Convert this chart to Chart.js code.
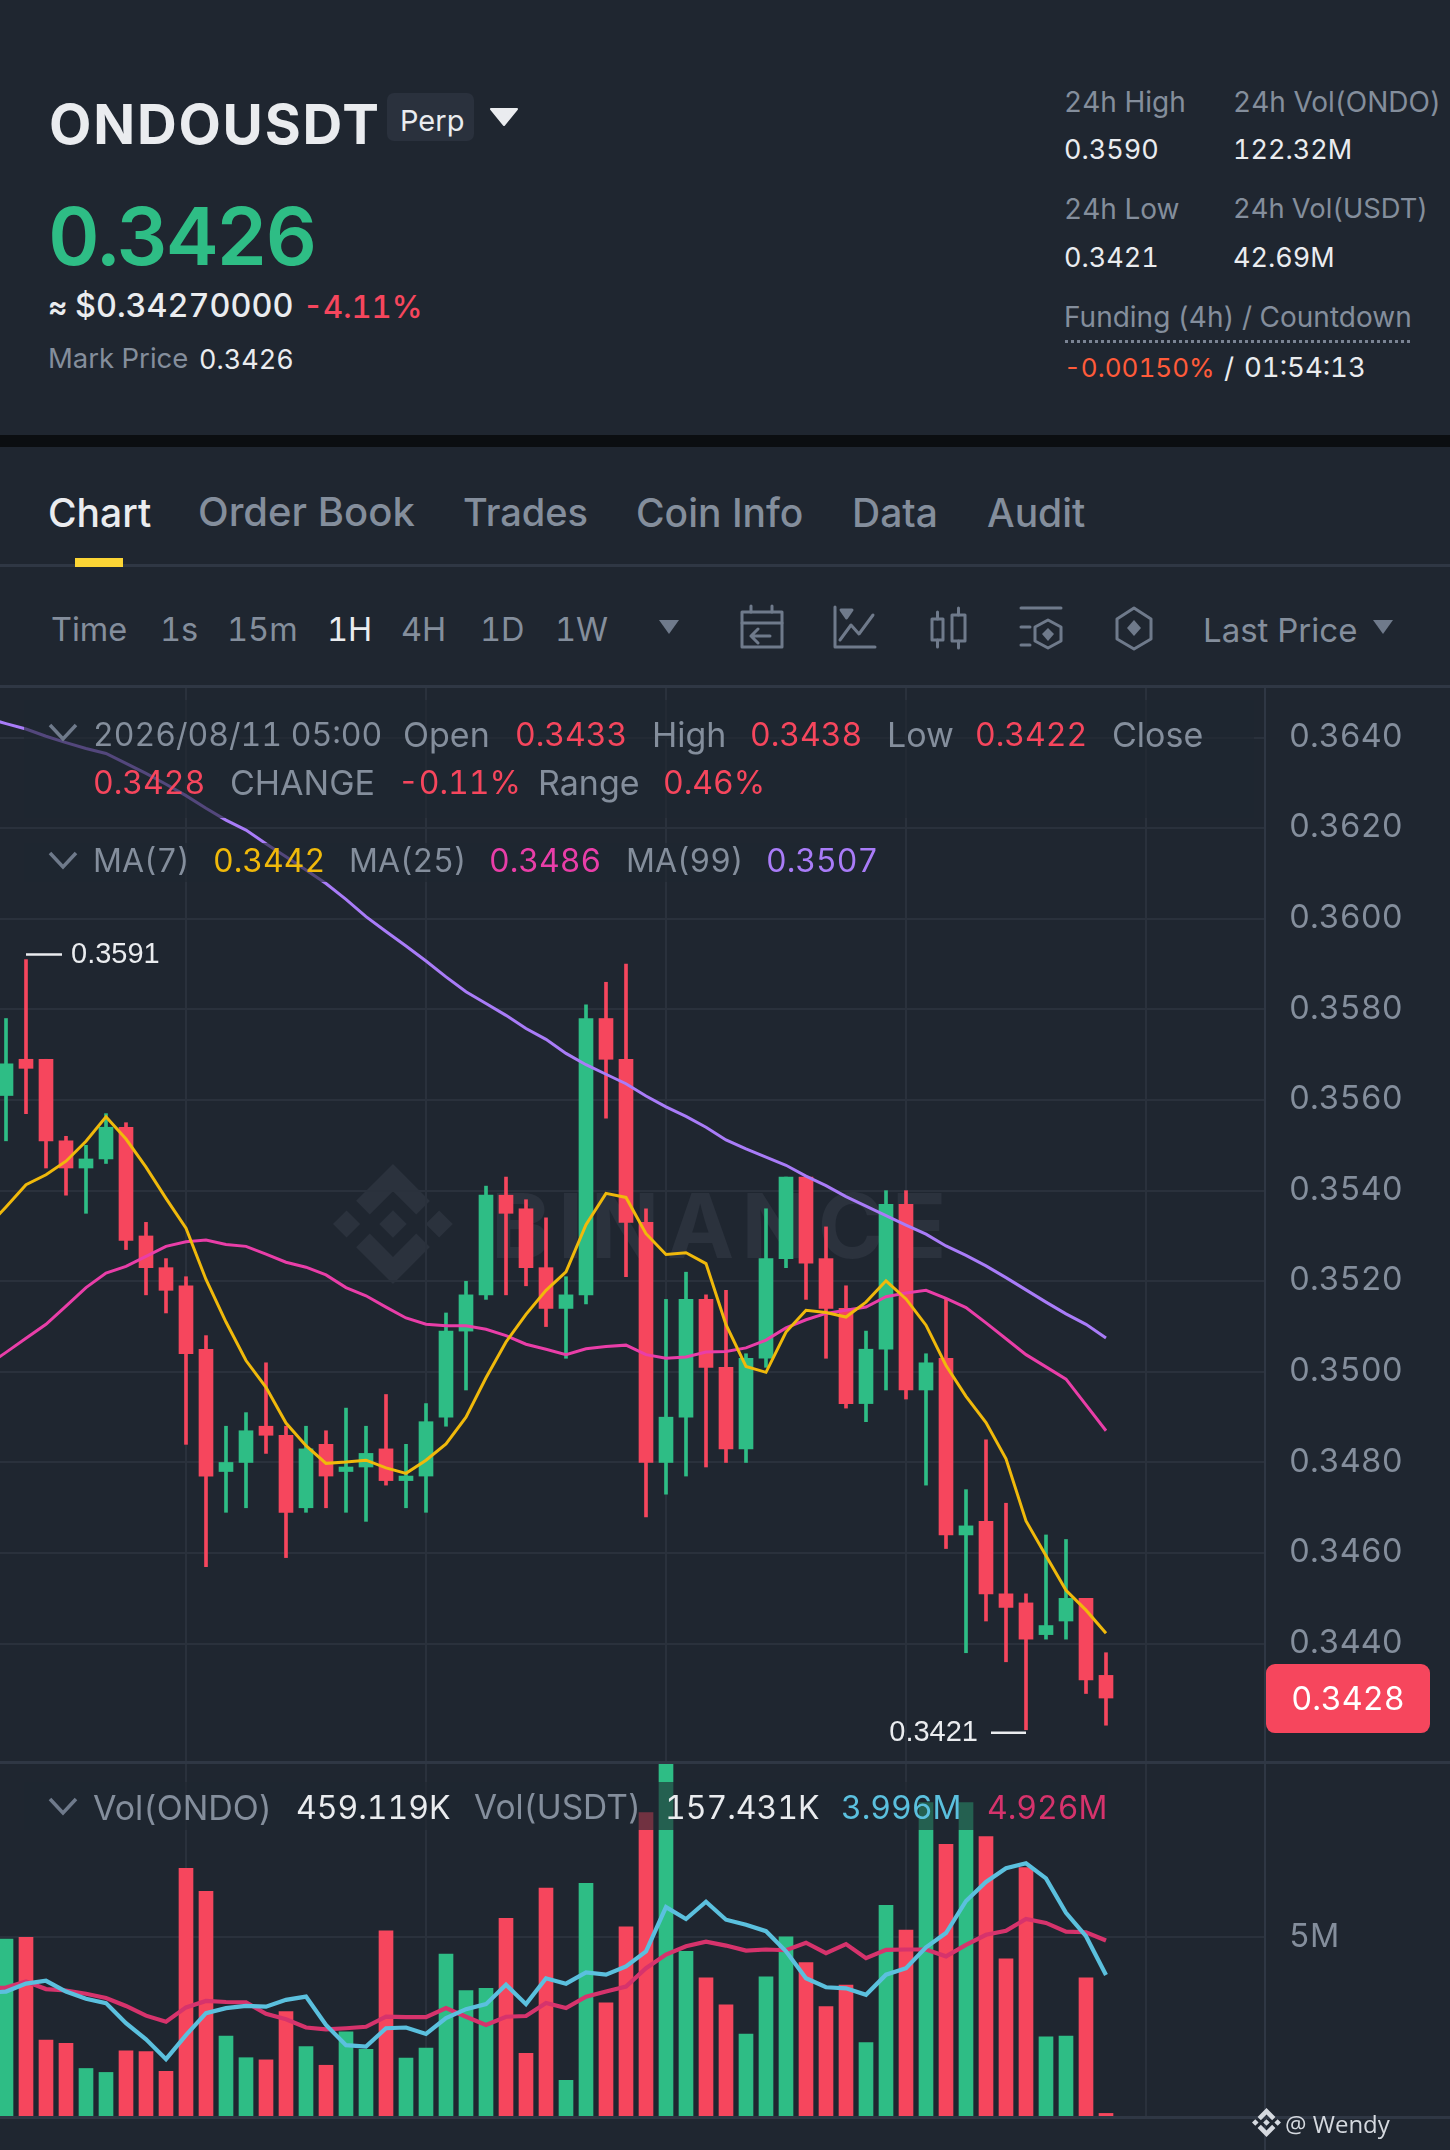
<!DOCTYPE html>
<html>
<head>
  <meta charset="utf-8">
  <title>ONDOUSDT Perp</title>
  <script src="https://cdn.jsdelivr.net/npm/chart.js"></script>
  <style>
    html, body { margin: 0; padding: 0; background: #1f2630; }
    body { position: relative; width: 1450px; height: 2150px; overflow: hidden; font-family: Inter, sans-serif; color: #eaecef; font-feature-settings: "tnum"; }
    canvas { position: absolute; left: 0; }
    .t { position: absolute; white-space: nowrap; transform: translateY(-50%); line-height: 1; font-size: 34px; color: #848e9c; }
    .w { color: #eaecef; }
    .r { color: #f6465d; }
    .n { font-size: 32px; }
    .s { font-size: 28px; }
    .sn { font-size: 27px; }
    .tb { font-size: 32.5px; }
    .tab { font-size: 39px; font-weight: 500; }
    .box { position: absolute; background: rgba(31, 38, 48, .62); }
    .rule { position: absolute; background: #2f3744; }
    svg { position: absolute; overflow: visible; }
    .ico { fill: none; stroke: #6f7a8b; stroke-width: 3; stroke-linejoin: round; stroke-linecap: round; }
  </style>
</head>
<body>
  <!-- header -->
  <div class="t w" style="left:49px;top:124px;font-size:55px;font-weight:700;letter-spacing:1.8px">ONDOUSDT</div>
  <div style="position:absolute;left:387px;top:93px;width:87px;height:48px;background:#2a313d;border-radius:7px"></div>
  <div class="t w" style="left:400px;top:120px;font-size:29px">Perp</div>
  <svg style="left:0;top:0" width="1" height="1"><path d="M491 109h26l-13 16z" fill="#eaecef" stroke="#eaecef" stroke-width="2" stroke-linejoin="round"/></svg>
  <div class="t" style="left:48px;top:236px;font-size:80px;font-weight:600;color:#2ebd85;letter-spacing:-2.2px">0.3426</div>
  <div class="t w" style="left:48px;top:306px;font-size:30px;font-weight:600">≈</div>
  <div class="t w" style="left:75px;top:306px;font-size:32.4px;font-weight:500">$0.34270000</div>
  <div class="t r" style="left:303px;top:306px;font-size:31px;font-weight:500">-4.11%</div>
  <div class="t" style="left:48px;top:359px;font-size:27.5px">Mark Price</div>
  <div class="t w sn" style="left:199px;top:359px">0.3426</div>

  <div class="t s" style="left:1064px;top:102px">24h High</div>
  <div class="t s" style="left:1233px;top:102px">24h Vol(ONDO)</div>
  <div class="t w sn" style="left:1064px;top:149px">0.3590</div>
  <div class="t w sn" style="left:1233px;top:149px">122.32M</div>
  <div class="t s" style="left:1064px;top:209px">24h Low</div>
  <div class="t s" style="left:1233px;top:209px;font-size:27.3px">24h Vol(USDT)</div>
  <div class="t w sn" style="left:1064px;top:257px">0.3421</div>
  <div class="t w sn" style="left:1233px;top:257px">42.69M</div>
  <div class="t s" style="left:1064px;top:317px">Funding (4h) / Countdown</div>
  <div style="position:absolute;left:1065px;top:340px;width:345px;border-top:3px dotted #7b8494"></div>
  <div class="t" style="left:1064px;top:368px;font-size:26px;color:#ff5b3a">-0.00150%</div>
  <div class="t w s" style="left:1224px;top:368px">/</div>
  <div class="t w" style="left:1244px;top:368px;font-size:27.5px">01:54:13</div>

  <div style="position:absolute;left:0;top:435px;width:1450px;height:12px;background:#0b0e11"></div>

  <!-- tabs -->
  <div class="t w tab" style="left:48px;top:512px">Chart</div>
  <div class="t tab" style="left:198px;top:512px;font-size:40px">Order Book</div>
  <div class="t tab" style="left:463px;top:512px;font-size:38px">Trades</div>
  <div class="t tab" style="left:636px;top:512px">Coin Info</div>
  <div class="t tab" style="left:852px;top:512px">Data</div>
  <div class="t tab" style="left:987px;top:512px">Audit</div>
  <div class="rule" style="left:0;top:564px;width:1450px;height:3px"></div>
  <div style="position:absolute;left:75px;top:558px;width:48px;height:9px;background:#fcd535"></div>

  <!-- toolbar -->
  <div class="t tb" style="left:51px;top:630px">Time</div>
  <div class="t tb" style="left:160px;top:630px">1s</div>
  <div class="t tb" style="left:227px;top:630px">15m</div>
  <div class="t w tb" style="left:327px;top:630px">1H</div>
  <div class="t tb" style="left:401px;top:630px">4H</div>
  <div class="t tb" style="left:480px;top:630px">1D</div>
  <div class="t tb" style="left:555px;top:630px">1W</div>
  <svg style="left:0;top:0" width="1" height="1">
    <path d="M659 620h20l-10 14z" fill="#6f7a8b"/>
    <path d="M1373 620h20l-10 14z" fill="#6f7a8b"/>
    <g class="ico">
      <rect x="742" y="612" width="40" height="35"/><path d="M742 623h40M751 606v6M772 606v6M770 636h-19m7-7l-7 7 7 7"/>
      <path d="M835 607v40h40M840 640l11-15 8 9 14-19"/><path d="M841 610h11l-5.500 8z" fill="#6f7a8b"/>
      <rect x="932" y="619" width="11" height="21"/><path d="M937.500 612v7M937.500 640v7"/><rect x="952" y="615" width="13" height="26"/><path d="M958.500 608v7M958.500 641v7"/>
      <path d="M1021 608h40M1021 627h9M1021 645h9"/><path d="M1048 620l13 7v14l-13 7-13-7v-14z"/>
      <path d="M1134 608l17 11v20l-17 10-17-10v-20z"/>
    </g>
    <path d="M1048 628l6 6-6 7-6-7z" fill="#6f7a8b"/>
    <path d="M1134 620l7 8-7 8-7-8z" fill="#6f7a8b"/>
  </svg>
  <div class="t" style="left:1203px;top:630px;font-size:33px">Last Price</div>

  <!-- watermark under the candles -->
  <svg style="left:333px;top:1164px" width="120" height="120" viewBox="0 0 126.610 126.610" fill="#2b323d">
    <path d="M38.730,53.200,63.300,28.620l24.590,24.590,14.300-14.300L63.300,0,24.420,38.900ZM0,63.310l14.300-14.300,14.300,14.300-14.300,14.300Zm38.730,10.100L63.300,98l24.590-24.590,14.310,14.290L63.300,126.610,24.420,87.720Zm59-10.090,14.300-14.300,14.300,14.300-14.300,14.300Z"/>
    <path d="M77.830,63.300,63.300,48.780,48.800,63.280,63.300,77.810Z"/>
  </svg>
  <div class="t" style="left:491px;top:1226px;font-size:90px;font-weight:700;color:#2b323d;letter-spacing:7.500px">BINANCE</div>

  <canvas id="priceChart" width="1450" height="1075" style="top:686px;width:1450px;height:1075px"></canvas>
  <canvas id="volChart" width="1450" height="387" style="top:1763px;width:1450px;height:387px"></canvas>

  <div class="rule" style="left:0;top:685px;width:1450px;height:3px"></div>
  <div class="rule" style="left:0;top:1761px;width:1450px;height:3px"></div>
  <div class="rule" style="left:0;top:2116px;width:1450px;height:3px"></div>
  <div class="rule" style="left:1264px;top:686px;width:2px;height:1464px"></div>

  <!-- legends, the bars and lines show dimmed through them -->
  <div class="box" style="left:24px;top:700px;width:1230px;height:118px"></div>
  <div class="box" style="left:24px;top:843px;width:856px;height:39px"></div>
  <div class="box" style="left:24px;top:1782px;width:1084px;height:48px"></div>

  <svg style="left:0;top:0" width="1" height="1" fill="none" stroke="#6f7a8b" stroke-width="3.500">
    <path d="M50 725l13 14 13-14M50 853l13 14 13-14M50 1799l13 14 13-14"/>
  </svg>
  <div class="t n" style="left:93px;top:735px">2026/08/11 05:00</div>
  <div class="t" style="left:403px;top:735px">Open</div>
  <div class="t r n" style="left:515px;top:735px">0.3433</div>
  <div class="t" style="left:652px;top:735px">High</div>
  <div class="t r n" style="left:750px;top:735px">0.3438</div>
  <div class="t" style="left:887px;top:735px">Low</div>
  <div class="t r n" style="left:975px;top:735px">0.3422</div>
  <div class="t" style="left:1112px;top:735px">Close</div>
  <div class="t r n" style="left:93px;top:783px">0.3428</div>
  <div class="t" style="left:230px;top:783px">CHANGE</div>
  <div class="t r n" style="left:398px;top:783px">-0.11%</div>
  <div class="t" style="left:538px;top:783px">Range</div>
  <div class="t r n" style="left:663px;top:783px">0.46%</div>
  <div class="t n" style="left:93px;top:861px">MA(7)</div>
  <div class="t n" style="left:213px;top:861px;color:#f0b90b">0.3442</div>
  <div class="t n" style="left:349px;top:861px">MA(25)</div>
  <div class="t n" style="left:489px;top:861px;color:#e93ea8">0.3486</div>
  <div class="t n" style="left:626px;top:861px">MA(99)</div>
  <div class="t n" style="left:766px;top:861px;color:#a97cf8">0.3507</div>

  <div class="t" style="left:93px;top:1808px">Vol(ONDO)</div>
  <div class="t w n" style="left:296px;top:1808px">459.119K</div>
  <div class="t" style="left:474px;top:1808px;font-size:33.5px">Vol(USDT)</div>
  <div class="t w n" style="left:665px;top:1808px">157.431K</div>
  <div class="t n" style="left:841px;top:1808px;color:#5bc0de">3.996M</div>
  <div class="t n" style="left:987px;top:1808px;color:#d6336c">4.926M</div>

  <svg style="left:1252px;top:2108px" width="29" height="29" viewBox="0 0 126.610 126.610" fill="#d5d9df">
    <path d="M38.730,53.200,63.300,28.620l24.590,24.590,14.300-14.300L63.300,0,24.420,38.900ZM0,63.310l14.300-14.300,14.300,14.300-14.300,14.300Zm38.730,10.100L63.300,98l24.590-24.590,14.310,14.290L63.300,126.610,24.420,87.720Zm59-10.090,14.300-14.300,14.300,14.300-14.300,14.300Z"/>
    <path d="M77.830,63.300,63.300,48.780,48.800,63.280,63.300,77.810Z"/>
  </svg>
  <div class="t" style="left:1285px;top:2124px;font-size:24px;color:#d5d9df;font-family:'Open Sans'">@ Wendy</div>

  <script>
    const opens = [0.3561,0.3569,0.3569,0.3551,0.3545,0.3547,0.3554,0.3530,0.3523,0.3519,0.3505,0.3478,0.3480,0.3488,0.3486,0.3470,0.3484,0.3478,0.3479,0.3483,0.3476,0.3477,0.3490,0.3509,0.3517,0.3539,0.3536,0.3523,0.3514,0.3517,0.3578,0.3569,0.3533,0.3480,0.3490,0.3516,0.3501,0.3483,0.3503,0.3525,0.3543,0.3525,0.3514,0.3493,0.3505,0.3537,0.3496,0.3503,0.3464,0.3467,0.3451,0.3449,0.3442,0.3445,0.3450,0.3433];
    const highs = [0.3578,0.3591,0.3569,0.3552,0.3550,0.3557,0.3555,0.3533,0.3525,0.3521,0.3508,0.3488,0.3491,0.3502,0.3488,0.3488,0.3487,0.3492,0.3488,0.3495,0.3484,0.3493,0.3513,0.3520,0.3541,0.3543,0.3538,0.3534,0.3521,0.3581,0.3586,0.3590,0.3536,0.3516,0.3522,0.3517,0.3518,0.3504,0.3536,0.3543,0.3543,0.3532,0.3519,0.3509,0.3540,0.3540,0.3504,0.3516,0.3474,0.3485,0.3471,0.3451,0.3464,0.3463,0.3450,0.3438];
    const lows = [0.3551,0.3557,0.3545,0.3539,0.3535,0.3546,0.3527,0.3517,0.3513,0.3484,0.3457,0.3469,0.3470,0.3482,0.3459,0.3469,0.3470,0.3469,0.3467,0.3475,0.3470,0.3469,0.3488,0.3496,0.3516,0.3517,0.3519,0.3510,0.3503,0.3515,0.3556,0.3521,0.3468,0.3473,0.3477,0.3479,0.3480,0.3480,0.3501,0.3523,0.3516,0.3503,0.3492,0.3489,0.3496,0.3494,0.3475,0.3461,0.3438,0.3445,0.3436,0.3421,0.3441,0.3441,0.3429,0.3422];
    const closes = [0.3568,0.3567,0.3551,0.3545,0.3547,0.3554,0.3529,0.3523,0.3518,0.3504,0.3477,0.3480,0.3487,0.3486,0.3469,0.3483,0.3477,0.3479,0.3482,0.3476,0.3477,0.3489,0.3509,0.3517,0.3539,0.3535,0.3523,0.3514,0.3517,0.3578,0.3569,0.3533,0.3480,0.3490,0.3516,0.3501,0.3483,0.3503,0.3525,0.3543,0.3524,0.3514,0.3493,0.3505,0.3537,0.3496,0.3502,0.3464,0.3466,0.3451,0.3448,0.3441,0.3444,0.3450,0.3432,0.3428];
    // volume in millions
    const volumes = [4.95,5.00,2.14,2.05,1.35,1.24,1.84,1.82,1.27,6.92,6.28,2.25,1.65,1.59,2.93,1.96,1.44,2.37,1.88,5.18,1.64,1.92,4.53,3.52,3.58,5.53,1.77,6.37,1.02,6.50,3.18,5.29,8.47,10.40,4.61,3.87,3.12,2.31,3.90,5.01,4.30,3.07,3.67,2.07,5.89,5.20,8.75,7.59,8.75,7.80,4.40,6.94,2.23,2.25,3.87,0.10];
    // moving averages start one candle before the first visible one, so the lines run off the left edge
    const ma7 = [0.35317,0.35364,0.35413,0.35435,0.35465,0.35509,0.35563,0.35514,0.35452,0.35383,0.35317,0.35204,0.35110,0.35025,0.34966,0.34887,0.34837,0.34798,0.34801,0.34805,0.34788,0.34776,0.34805,0.34841,0.34900,0.34987,0.35066,0.35127,0.35180,0.35221,0.35325,0.35394,0.35385,0.35305,0.35259,0.35263,0.35239,0.35104,0.35012,0.34999,0.35088,0.35136,0.35131,0.35121,0.35154,0.35201,0.35161,0.35103,0.35014,0.34946,0.34888,0.34808,0.34671,0.34594,0.34518,0.34474,0.34423];
    const ma25 = [0.35013,0.35043,0.35074,0.35105,0.35145,0.35186,0.35218,0.35233,0.35255,0.35277,0.35287,0.35291,0.35281,0.35277,0.35260,0.35242,0.35231,0.35214,0.35186,0.35168,0.35143,0.35119,0.35105,0.35102,0.35102,0.35094,0.35080,0.35061,0.35050,0.35038,0.35051,0.35056,0.35059,0.35038,0.35030,0.35033,0.35044,0.35045,0.35053,0.35070,0.35097,0.35115,0.35129,0.35136,0.35143,0.35166,0.35174,0.35180,0.35162,0.35142,0.35108,0.35073,0.35038,0.35011,0.34984,0.34927,0.34870];
    const ma99 = [0.36444,0.36431,0.36419,0.36403,0.36389,0.36376,0.36365,0.36343,0.36321,0.36297,0.36272,0.36244,0.36218,0.36196,0.36166,0.36137,0.36108,0.36078,0.36043,0.36005,0.35972,0.35940,0.35907,0.35872,0.35839,0.35813,0.35787,0.35758,0.35734,0.35703,0.35678,0.35657,0.35636,0.35609,0.35585,0.35564,0.35540,0.35512,0.35492,0.35474,0.35456,0.35432,0.35411,0.35387,0.35366,0.35345,0.35324,0.35304,0.35278,0.35257,0.35234,0.35208,0.35181,0.35154,0.35128,0.35105,0.35075];
    const volMa1 = [3.45,3.49,3.71,3.79,3.49,3.29,3.17,2.61,2.16,1.61,2.28,2.89,3.03,3.09,3.07,3.26,3.35,2.56,2.00,1.96,2.47,2.49,2.31,2.75,3.00,3.14,3.68,3.14,3.86,3.71,4.02,3.96,4.19,4.61,5.84,5.51,5.99,5.49,5.35,5.17,4.61,3.86,3.61,3.58,3.40,3.96,4.14,4.72,5.12,6.01,6.54,6.92,7.06,6.64,5.68,5.03,3.95];
    const volMa2 = [3.58,3.60,3.77,3.56,3.52,3.43,3.31,3.09,2.82,2.65,3.05,3.23,3.20,3.19,2.87,2.72,2.49,2.44,2.47,2.51,2.79,2.78,2.78,3.03,2.79,2.56,2.79,2.81,3.17,3.03,3.35,3.49,3.63,4.14,4.52,4.75,4.88,4.77,4.63,4.66,4.64,4.85,4.56,4.81,4.42,4.65,4.66,4.66,4.47,4.79,5.07,5.18,5.51,5.40,5.16,5.14,4.91];
    const priceTicks = [0.3640,0.3620,0.3600,0.3580,0.3560,0.3540,0.3520,0.3500,0.3480,0.3460,0.3440];
    const volTicks = [5];
    const gridCandles = [9,21,33,45,57];

    const UP = '#2ebd85', DOWN = '#f6465d', GRID = '#2a313c', TEXT = '#848e9c';
    const candleColors = closes.map((c, i) => c >= opens[i] ? UP : DOWN);

    // candle x positions are just their index
    const xy = arr => arr.map((v, i) => ({ x: i, y: v }));
    const xyLead = arr => arr.map((v, i) => ({ x: i - 1, y: v }));

    function xScale() {
      return {
        type: 'linear', min: -0.3, max: 62.95, offset: false,
        grid: { color: GRID, lineWidth: 2, drawTicks: false, offset: false },
        border: { display: false },
        ticks: { display: false },
        afterBuildTicks: s => { s.ticks = gridCandles.map(v => ({ value: v })); },
        afterFit: s => { s.height = 0; }
      };
    }
    function yScale(min, max, values, fmt) {
      return {
        position: 'right', min, max,
        grid: { color: GRID, lineWidth: 2, drawTicks: false },
        border: { display: false },
        ticks: { color: TEXT, padding: 24, labelOffset: -0.5, font: { family: 'Inter', size: 32.4 }, callback: fmt },
        afterBuildTicks: s => { s.ticks = values.map(v => ({ value: v })); },
        // the tick padding would otherwise shrink the plot at top and bottom
        afterFit: s => { s.width = 185; s.paddingTop = 0; s.paddingBottom = 0; }
      };
    }
    const line = (data, color, width) => ({
      type: 'line', data: xyLead(data), borderColor: color, borderWidth: width,
      pointRadius: 0, tension: 0, order: 0
    });

    // high/low callouts and the last price tag follow the y scale
    const pricePlugin = {
      id: 'priceMarks',
      afterDraw(chart) {
        const { ctx, scales: { x, y } } = chart;
        const hi = Math.max(...highs), lo = Math.min(...lows);
        const hiX = x.getPixelForValue(highs.indexOf(hi)), loX = x.getPixelForValue(lows.indexOf(lo));
        ctx.save();
        ctx.fillStyle = ctx.strokeStyle = '#eaecef';
        ctx.lineWidth = 2.5;
        ctx.font = '29px "Liberation Sans"';
        ctx.textBaseline = 'middle';
        ctx.beginPath();
        ctx.moveTo(hiX, y.getPixelForValue(hi) - 5);
        ctx.lineTo(hiX + 36, y.getPixelForValue(hi) - 5);
        ctx.moveTo(loX, y.getPixelForValue(lo) + 3);
        ctx.lineTo(loX - 35, y.getPixelForValue(lo) + 3);
        ctx.stroke();
        ctx.textAlign = 'left';
        ctx.fillText(hi.toFixed(4), hiX + 45, y.getPixelForValue(hi) - 5);
        ctx.textAlign = 'right';
        ctx.fillText(lo.toFixed(4), loX - 48, y.getPixelForValue(lo) + 3);

        const last = closes[closes.length - 1], ly = y.getPixelForValue(last);
        ctx.fillStyle = DOWN;
        ctx.beginPath();
        ctx.roundRect(1266, ly - 34, 164, 69, 9);
        ctx.fill();
        ctx.fillStyle = '#ffffff';
        ctx.textAlign = 'center';
        ctx.font = '32.4px Inter';
        ctx.fillText(last.toFixed(4), 1348, ly + 2);
        ctx.restore();
      }
    };

    new Chart(document.getElementById('priceChart'), {
      type: 'bar',
      plugins: [pricePlugin],
      data: {
        datasets: [
          line(ma7, '#f0b90b', 3),
          line(ma25, '#e93ea8', 3),
          line(ma99, '#a97cf8', 3),
          { data: xy(opens.map((o, i) => [o, closes[i]])), backgroundColor: candleColors, barThickness: 14, grouped: false, order: 1 },
          { data: xy(lows.map((l, i) => [l, highs[i]])), backgroundColor: candleColors, barThickness: 3, grouped: false, order: 2 }
        ]
      },
      options: {
        responsive: false, animation: false, devicePixelRatio: 1,
        layout: { padding: 0 },
        plugins: { legend: { display: false }, tooltip: { enabled: false } },
        scales: { x: xScale(), y: yScale(0.34141, 0.36514, priceTicks, v => v.toFixed(4)) }
      }
    });

    new Chart(document.getElementById('volChart'), {
      type: 'bar',
      data: {
        datasets: [
          line(volMa1, '#5bc0de', 4.2),
          line(volMa2, '#d6336c', 4.2),
          { data: xy(volumes), backgroundColor: candleColors, barThickness: 14, grouped: false, order: 1 }
        ]
      },
      options: {
        responsive: false, animation: false, devicePixelRatio: 1,
        layout: { padding: { bottom: 33 } },
        plugins: { legend: { display: false }, tooltip: { enabled: false } },
        scales: { x: xScale(), y: yScale(0, 9.85, volTicks, v => v + 'M') }
      }
    });
  </script>
</body>
</html>
